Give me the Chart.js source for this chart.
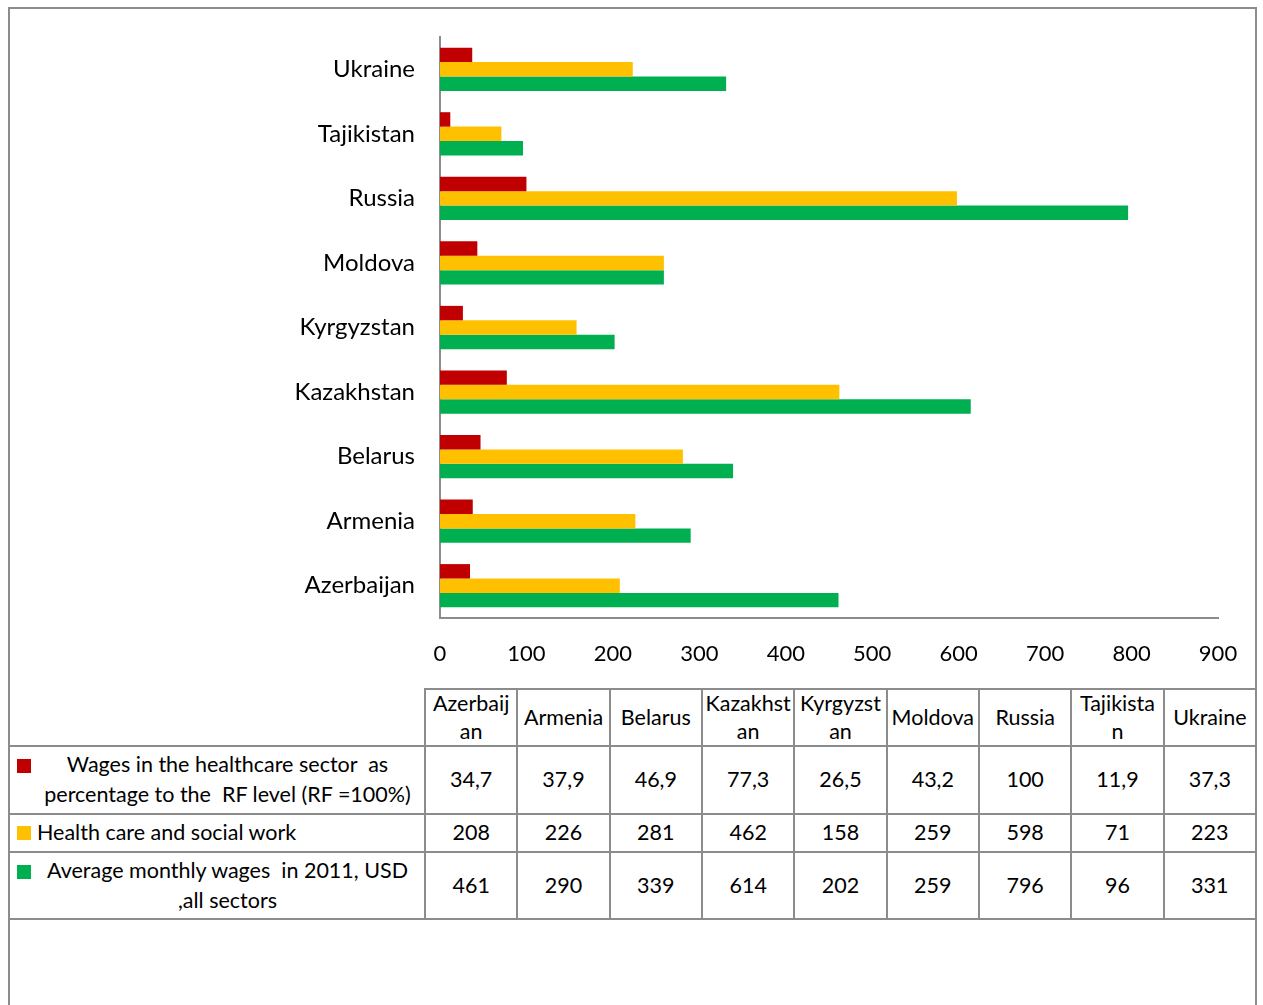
<!DOCTYPE html>
<html lang="en">
<head>
    <meta charset="UTF-8">
    <title>Wages in the healthcare sector</title>
    <script src="https://cdn.jsdelivr.net/npm/chart.js"></script>
    <style>
        body { margin: 0; background: #fff; font-family: Lato, "Open Sans", sans-serif; overflow: hidden; }
        #frame {
            position: absolute; left: 8px; top: 7px; width: 1245px; height: 1010px;
            border: 2px solid #8c8c8c; border-bottom: none;
        }
        #chartBox { position: absolute; left: 8px; top: 7px; width: 1247px; height: 681px; }
        #dataTable {
            position: absolute; left: 8px; top: 688px; width: 1249px;
            border-collapse: collapse; table-layout: fixed; font-size: 21.5px; color: #000;
        }
        #dataTable td, #dataTable th {
            border: 2px solid #8c8c8c; text-align: center; font-weight: normal;
            padding: 0 2px; word-break: break-all; line-height: 1.38;
        }
        #dataTable th { line-height: 1.28; }
        #dataTable th.blank { border-top: hidden; }
        #dataTable tr.head { height: 57px; }
        #dataTable td.series { text-align: center; padding: 0 6px 0 27px; position: relative; word-break: normal; white-space: pre-wrap; }
        #dataTable td.series.left { text-align: left; }
        .key { position: absolute; left: 7px; width: 14px; height: 14px; }
    </style>
</head>
<body>
    <div id="frame"></div>
    <div id="chartBox"><canvas id="wagesChart"></canvas></div>
    <table id="dataTable"></table>

    <script>
        const countries = ['Azerbaijan', 'Armenia', 'Belarus', 'Kazakhstan', 'Kyrgyzstan', 'Moldova', 'Russia', 'Tajikistan', 'Ukraine'];
        const seriesNames = [
            'Wages in the healthcare sector  as percentage to the  RF level (RF =100%)',
            'Health care and social work',
            'Average monthly wages  in 2011, USD ,all sectors'
        ];
        const healthPercent = [34.7, 37.9, 46.9, 77.3, 26.5, 43.2, 100, 11.9, 37.3];
        const healthWages = [208, 226, 281, 462, 158, 259, 598, 71, 223];
        const averageWages = [461, 290, 339, 614, 202, 259, 796, 96, 331];
        const seriesColors = ['#C00000', '#FFC000', '#00B050'];
        const xMin = 0, xMax = 900, xStep = 100;

        const seriesData = [healthPercent, healthWages, averageWages];
        const rowHeights = [68, 38, 67];

        // data table under the chart (acts as the legend too)
        const table = document.getElementById('dataTable');
        let html = '<colgroup><col style="width:416px">' + countries.map(() => '<col>').join('') + '</colgroup>';
        html += '<tr class="head"><th class="blank"></th>' + countries.map(c => `<th>${c}</th>`).join('') + '</tr>';
        seriesData.forEach((values, i) => {
            const cls = i === 1 ? 'series left' : 'series';
            const keyTop = i === 1 ? 11 : 12;
            html += `<tr style="height:${rowHeights[i]}px"><td class="${cls}"><span class="key" style="background:${seriesColors[i]};top:${keyTop}px"></span>${seriesNames[i]}</td>`;
            html += values.map(v => `<td>${String(v).replace('.', ',')}</td>`).join('') + '</tr>';
        });
        table.innerHTML = html;

        const ctx = document.getElementById('wagesChart').getContext('2d');
        const wagesChart = new Chart(ctx, {
            type: 'bar',
            data: {
                labels: countries,
                datasets: seriesData.map((values, i) => ({
                    label: seriesNames[i],
                    data: values,
                    backgroundColor: seriesColors[i],
                    borderWidth: 0,
                    categoryPercentage: 0.67,
                    barPercentage: 1.0
                }))
            },
            options: {
                indexAxis: 'y',
                responsive: true,
                maintainAspectRatio: false,
                animation: false,
                layout: { padding: { top: 30, right: 37, bottom: 0, left: 0 } },
                plugins: { legend: { display: false }, tooltip: { enabled: false } },
                scales: {
                    x: {
                        min: xMin,
                        max: xMax,
                        grid: { display: false, drawTicks: false },
                        border: { display: true, color: '#8c8c8c', width: 2 },
                        ticks: {
                            stepSize: xStep,
                            padding: 23,
                            color: '#000',
                            font: { family: 'Lato, "Open Sans", sans-serif', size: 22 }
                        },
                        afterFit: scale => {
                            scale.height = 70;
                            scale.paddingLeft = 0;
                            scale.paddingRight = 0;
                        }
                    },
                    y: {
                        reverse: true,
                        grid: { display: false, drawTicks: false },
                        border: { display: true, color: '#8c8c8c', width: 2 },
                        ticks: {
                            padding: 25,
                            color: '#000',
                            font: { family: 'Lato, "Open Sans", sans-serif', size: 24 }
                        },
                        afterFit: scale => {
                            scale.width = 432;
                            scale.paddingTop = 0;
                            scale.paddingBottom = 0;
                        }
                    }
                }
            }
        });
    </script>
</body>
</html>
